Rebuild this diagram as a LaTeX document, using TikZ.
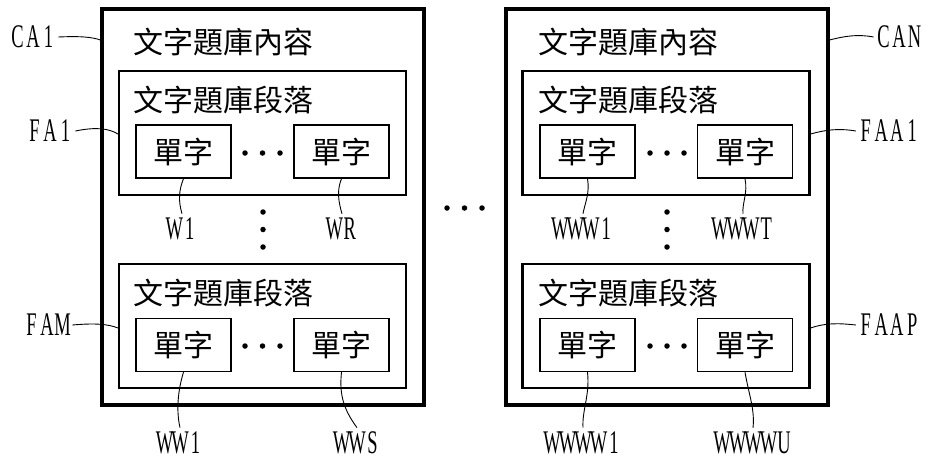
\documentclass[tikz,border=0pt]{standalone}
\usepackage{fontspec}
\newfontfamily\cjk{Noto Sans CJK TC}
\newfontfamily\lab[FakeStretch=0.56]{Liberation Serif}
\def\monoloop#1{\ifx#1\relax\else\makebox[15.5pt]{#1}\expandafter\monoloop\fi}
\newcommand\monolabel[1]{\monoloop#1\relax}
\begin{document}
\begin{tikzpicture}[x=1pt,y=-1pt,
  outerbox/.style={draw, line width=3.2pt, minimum width=322pt, minimum height=396pt, inner sep=0pt},
  parabox/.style={draw, line width=2.1pt, minimum width=287pt, minimum height=124pt, inner sep=0pt},
  wordbox/.style={draw, line width=1.4pt, minimum width=95pt, minimum height=53pt, inner sep=0pt,
    font=\cjk\fontsize{30}{30}\selectfont},
  titletext/.style={anchor=west, inner sep=0pt, font=\cjk\fontsize{30}{30}\selectfont},
  lbl/.style={inner xsep=2pt, inner ysep=4pt, font=\lab\fontsize{33}{33}\selectfont},
  leader/.style={line width=0.9pt},
  blackdot/.style={circle, fill=black, inner sep=0pt, minimum size=5.5pt}]
\useasboundingbox (0,0) rectangle (930,464);

% ---------- left panel ----------
\node[outerbox] (CA1box) at (263,207) {};
\node[titletext] (t1) at (133,42) {文字題庫內容};
\node[parabox] (fa1) at (262.5,133) {};
\node[titletext] (s1) at (133,100) {文字題庫段落};
\node[wordbox] (w1) at (183.5,151.5) {單字};
\node[wordbox] (wr) at (341.5,151.5) {單字};
\node[blackdot] (d1a) at (245,153) {};
\node[blackdot] (d1b) at (262.5,153) {};
\node[blackdot] (d1c) at (280,153) {};
\node[blackdot] (v1a) at (263,212) {};
\node[blackdot] (v1b) at (263,229.5) {};
\node[blackdot] (v1c) at (263,247) {};
\node[parabox] (fam) at (262.5,326) {};
\node[titletext] (s2) at (133,293) {文字題庫段落};
\node[wordbox] (ww1) at (183.5,345) {單字};
\node[wordbox] (wws) at (341.5,345) {單字};
\node[blackdot] (d2a) at (245,346) {};
\node[blackdot] (d2b) at (262.5,346) {};
\node[blackdot] (d2c) at (280,346) {};

% ---------- middle dots ----------
\node[blackdot] (m1) at (447,208) {};
\node[blackdot] (m2) at (464.5,208) {};
\node[blackdot] (m3) at (482,208) {};

% ---------- right panel ----------
\node[outerbox] (CANbox) at (667,207) {};
\node[titletext] (t2) at (538,42) {文字題庫內容};
\node[parabox] (faa1) at (666,133) {};
\node[titletext] (s3) at (538,100) {文字題庫段落};
\node[wordbox] (www1) at (587.5,151.5) {單字};
\node[wordbox] (wwwt) at (745,151.5) {單字};
\node[blackdot] (d3a) at (650,153) {};
\node[blackdot] (d3b) at (667,153) {};
\node[blackdot] (d3c) at (684,153) {};
\node[blackdot] (v2a) at (667,212) {};
\node[blackdot] (v2b) at (667,229.5) {};
\node[blackdot] (v2c) at (667,247) {};
\node[parabox] (faap) at (666,326) {};
\node[titletext] (s4) at (538,293) {文字題庫段落};
\node[wordbox] (wwww1) at (587.5,345) {單字};
\node[wordbox] (wwwwu) at (745,345) {單字};
\node[blackdot] (d4a) at (650,346) {};
\node[blackdot] (d4b) at (667,346) {};
\node[blackdot] (d4c) at (684,346) {};

% ---------- labels ----------
\node[lbl] (lCA1) at (33,37) {\monolabel{CA1}};
\node[lbl] (lFA1) at (50,131) {\monolabel{FA1}};
\node[lbl] (lFAM) at (47,325) {\monolabel{FAM}};
\node[lbl] (lCAN) at (899,37) {\monolabel{CAN}};
\node[lbl] (lFAA1) at (889,131) {\monolabel{FAA1}};
\node[lbl] (lFAAP) at (889,325) {\monolabel{FAAP}};
\node[lbl] (lW1) at (182,229) {\monolabel{W1}};
\node[lbl] (lWR) at (342,229) {\monolabel{WR}};
\node[lbl] (lWW1) at (180,443) {\monolabel{WW1}};
\node[lbl] (lWWS) at (357,443) {\monolabel{WWS}};
\node[lbl] (lWWW1) at (583,229) {\monolabel{WWW1}};
\node[lbl] (lWWWT) at (743,229) {\monolabel{WWWT}};
\node[lbl] (lWWWW1) at (583,443) {\monolabel{WWWW1}};
\node[lbl] (lWWWWU) at (753,443) {\monolabel{WWWWU}};

% ---------- leaders ----------
\draw[leader] (lCA1.east) .. controls (80,36) and (92,37) .. (CA1box.west |- 0,40);
\draw[leader] (lFA1.east) .. controls (95,127) and (108,128) .. (fa1.west |- 0,134);
\draw[leader] (lFAM.east) .. controls (95,323) and (108,324) .. (fam.west |- 0,328);
\draw[leader] (CANbox.east |- 0,40) .. controls (845,36) and (858,34) .. (lCAN.west);
\draw[leader] (faa1.east |- 0,134) .. controls (825,130) and (838,128) .. (lFAA1.west);
\draw[leader] (faap.east |- 0,328) .. controls (825,323) and (838,323) .. (lFAAP.west);
\draw[leader] (w1.south) .. controls (179,190) and (178,200) .. (lW1.north);
\draw[leader] (wr.south) .. controls (337,190) and (338,200) .. (lWR.north);
\draw[leader] (ww1.south) .. controls (178,390) and (176,410) .. (lWW1.north);
\draw[leader] (wws.south) .. controls (339,395) and (344,410) .. (lWWS.north);
\draw[leader] (www1.south) .. controls (590,193) and (585,203) .. (lWWW1.north);
\draw[leader] (wwwt.south) .. controls (748,193) and (742,203) .. (lWWWT.north);
\draw[leader] (wwww1.south) .. controls (590,395) and (582,410) .. (lWWWW1.north);
\draw[leader] (wwwwu.south) .. controls (749,395) and (755,410) .. (lWWWWU.north);
\end{tikzpicture}
\end{document}
